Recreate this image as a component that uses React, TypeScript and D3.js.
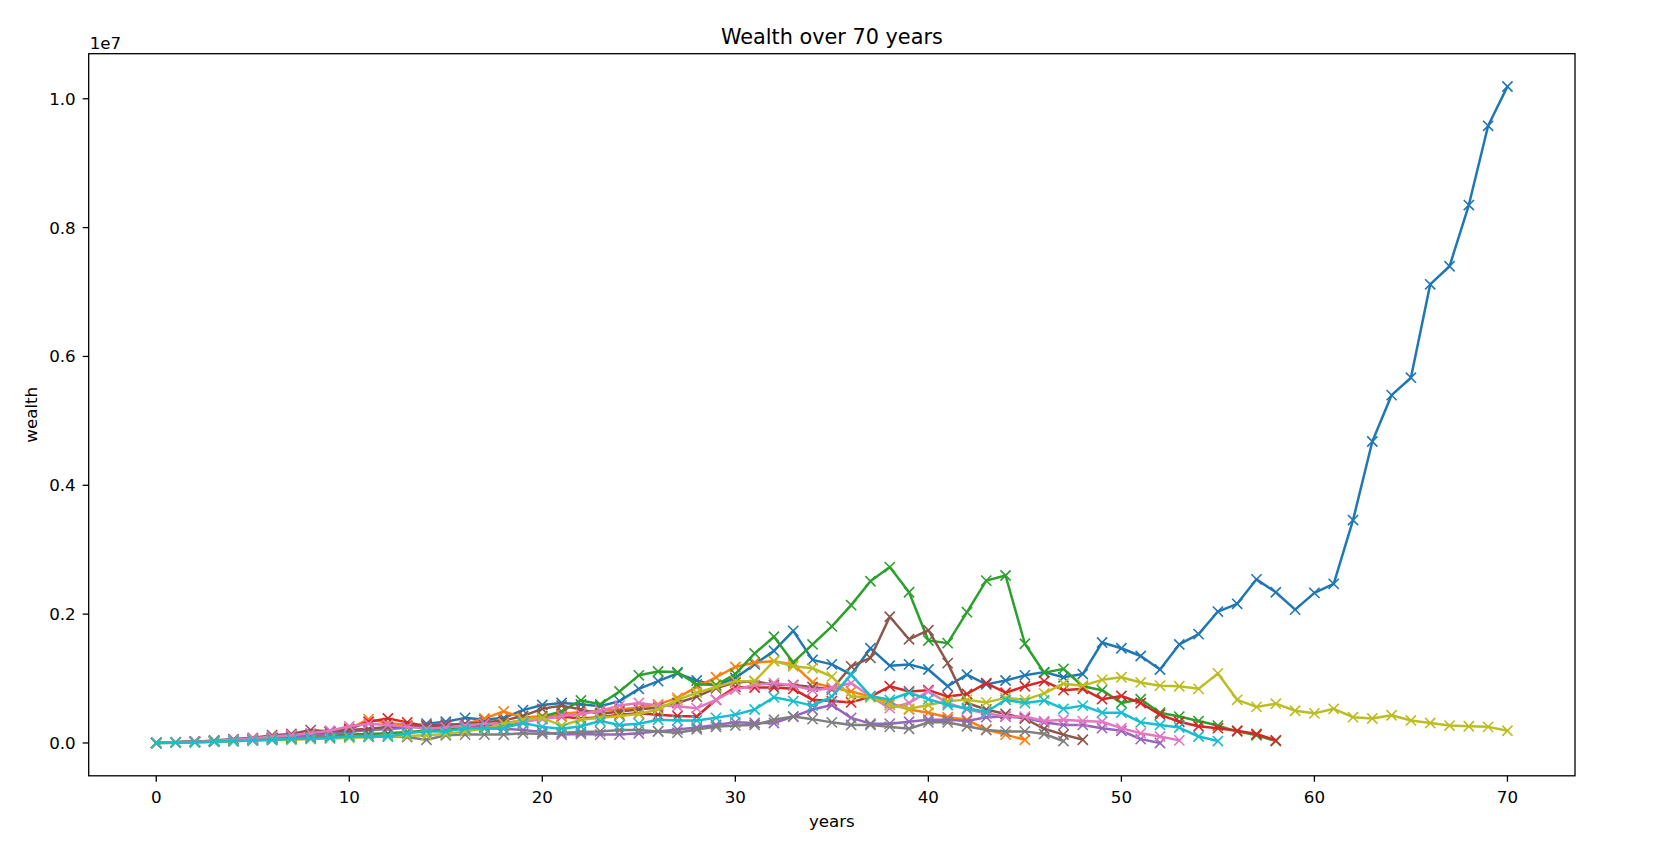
import React from 'react';
import * as d3 from 'd3';

// wealth values in millions, index = year
const blueVals = [0, 0.01, 0.02, 0.03, 0.05, 0.06, 0.09, 0.11, 0.14, 0.17, 0.19, 0.21, 0.22, 0.24, 0.30, 0.33, 0.39, 0.36, 0.39, 0.51, 0.59, 0.62, 0.60, 0.57, 0.65, 0.84, 0.96, 1.08, 0.97, 0.89, 1.01, 1.22, 1.43, 1.74, 1.29, 1.22, 1.06, 1.47, 1.20, 1.22, 1.14, 0.88, 1.06, 0.91, 0.97, 1.05, 1.10, 1.02, 1.07, 1.56, 1.47, 1.35, 1.14, 1.53, 1.69, 2.04, 2.16, 2.54, 2.34, 2.07, 2.33, 2.47, 3.46, 4.68, 5.40, 5.67, 7.12, 7.40, 8.35, 9.58, 10.19];
const orangeVals = [0, 0.01, 0.02, 0.03, 0.04, 0.06, 0.08, 0.10, 0.13, 0.17, 0.22, 0.37, 0.31, 0.28, 0.27, 0.25, 0.29, 0.38, 0.49, 0.39, 0.42, 0.45, 0.48, 0.50, 0.52, 0.55, 0.60, 0.70, 0.87, 1.02, 1.18, 1.25, 1.27, 1.22, 0.94, 0.86, 0.80, 0.72, 0.62, 0.52, 0.47, 0.40, 0.36, 0.21, 0.13, 0.05];
const greenVals = [0, 0.01, 0.02, 0.02, 0.03, 0.04, 0.06, 0.07, 0.09, 0.11, 0.13, 0.14, 0.15, 0.17, 0.19, 0.21, 0.22, 0.25, 0.28, 0.32, 0.41, 0.49, 0.66, 0.60, 0.80, 1.05, 1.11, 1.10, 0.91, 0.90, 1.07, 1.39, 1.65, 1.25, 1.53, 1.81, 2.14, 2.51, 2.73, 2.34, 1.59, 1.55, 2.03, 2.52, 2.60, 1.54, 1.09, 1.15, 0.88, 0.82, 0.62, 0.68, 0.47, 0.41, 0.34, 0.27, 0.18, 0.12, 0.03];
const redVals = [0, 0.01, 0.02, 0.03, 0.04, 0.06, 0.08, 0.10, 0.13, 0.17, 0.22, 0.33, 0.38, 0.32, 0.26, 0.25, 0.26, 0.28, 0.31, 0.34, 0.38, 0.41, 0.38, 0.40, 0.44, 0.46, 0.44, 0.42, 0.41, 0.67, 0.87, 0.86, 0.86, 0.84, 0.67, 0.65, 0.63, 0.72, 0.88, 0.80, 0.82, 0.72, 0.76, 0.93, 0.78, 0.88, 0.96, 0.82, 0.84, 0.68, 0.73, 0.62, 0.44, 0.33, 0.26, 0.23, 0.19, 0.14, 0.04];
const purpleVals = [0, 0.01, 0.02, 0.03, 0.04, 0.05, 0.07, 0.09, 0.11, 0.14, 0.17, 0.20, 0.22, 0.24, 0.27, 0.30, 0.26, 0.23, 0.22, 0.20, 0.17, 0.13, 0.14, 0.13, 0.13, 0.15, 0.18, 0.21, 0.24, 0.28, 0.32, 0.31, 0.31, 0.41, 0.52, 0.59, 0.39, 0.30, 0.30, 0.33, 0.36, 0.36, 0.34, 0.40, 0.41, 0.39, 0.32, 0.28, 0.28, 0.23, 0.19, 0.06, 0.0];
const brownVals = [0, 0.01, 0.02, 0.04, 0.06, 0.08, 0.12, 0.14, 0.20, 0.18, 0.20, 0.22, 0.25, 0.26, 0.27, 0.28, 0.30, 0.32, 0.35, 0.42, 0.53, 0.58, 0.52, 0.45, 0.49, 0.52, 0.55, 0.62, 0.72, 0.85, 0.94, 0.96, 0.90, 0.90, 0.87, 0.83, 1.19, 1.32, 1.96, 1.61, 1.75, 1.24, 0.62, 0.52, 0.45, 0.38, 0.22, 0.13, 0.05];
const pinkVals = [0, 0.01, 0.02, 0.03, 0.05, 0.07, 0.10, 0.12, 0.15, 0.19, 0.26, 0.30, 0.28, 0.25, 0.22, 0.24, 0.27, 0.30, 0.30, 0.33, 0.37, 0.42, 0.45, 0.50, 0.58, 0.62, 0.58, 0.57, 0.54, 0.67, 0.83, 0.90, 0.93, 0.89, 0.82, 0.85, 0.93, 0.72, 0.54, 0.62, 0.80, 0.62, 0.52, 0.46, 0.41, 0.41, 0.34, 0.36, 0.34, 0.33, 0.23, 0.15, 0.10, 0.04];
const grayVals = [0, 0.005, 0.01, 0.02, 0.03, 0.04, 0.05, 0.06, 0.08, 0.09, 0.10, 0.10, 0.11, 0.09, 0.05, 0.12, 0.13, 0.13, 0.13, 0.15, 0.14, 0.16, 0.17, 0.18, 0.20, 0.20, 0.18, 0.16, 0.21, 0.25, 0.27, 0.28, 0.36, 0.41, 0.37, 0.32, 0.28, 0.28, 0.25, 0.22, 0.32, 0.32, 0.26, 0.20, 0.18, 0.18, 0.14, 0.03];
const oliveVals = [0, 0.005, 0.01, 0.02, 0.03, 0.04, 0.05, 0.05, 0.06, 0.07, 0.08, 0.09, 0.10, 0.11, 0.12, 0.14, 0.18, 0.22, 0.30, 0.36, 0.39, 0.27, 0.36, 0.39, 0.42, 0.45, 0.52, 0.67, 0.78, 0.87, 0.96, 0.96, 1.27, 1.19, 1.16, 1.03, 0.72, 0.71, 0.59, 0.53, 0.59, 0.65, 0.67, 0.63, 0.70, 0.67, 0.77, 0.92, 0.89, 0.98, 1.02, 0.94, 0.89, 0.88, 0.84, 1.08, 0.67, 0.56, 0.61, 0.50, 0.46, 0.53, 0.40, 0.38, 0.43, 0.35, 0.31, 0.27, 0.26, 0.25, 0.19];
const cyanVals = [0, 0.005, 0.01, 0.02, 0.03, 0.04, 0.05, 0.06, 0.07, 0.08, 0.10, 0.10, 0.10, 0.15, 0.18, 0.18, 0.23, 0.23, 0.23, 0.31, 0.25, 0.22, 0.26, 0.34, 0.28, 0.30, 0.36, 0.35, 0.35, 0.39, 0.44, 0.52, 0.71, 0.65, 0.58, 0.72, 1.06, 0.73, 0.67, 0.78, 0.68, 0.59, 0.54, 0.48, 0.67, 0.62, 0.66, 0.53, 0.58, 0.47, 0.47, 0.32, 0.28, 0.24, 0.10, 0.03];

const seriesValues = [blueVals, orangeVals, greenVals, redVals, purpleVals, brownVals, pinkVals, grayVals, oliveVals, cyanVals];
const seriesColors = ['#1f77b4', '#ff7f0e', '#2ca02c', '#d62728', '#9467bd', '#8c564b', '#e377c2', '#7f7f7f', '#bcbd22', '#17becf'];

const xTicks = [0, 10, 20, 30, 40, 50, 60, 70];
const yTicks = [0, 0.2, 0.4, 0.6, 0.8, 1.0];
const yTickLabels = ['0.0', '0.2', '0.4', '0.6', '0.8', '1.0'];
const titleText = 'Wealth over 70 years';
const xLabelText = 'years';
const yLabelText = 'wealth';
const offsetText = '1e7';

const W = 1662;
const H = 857;
const L = 88.7, R = 1575, T = 53.7, B = 775.8;
const FONT = 'DejaVu Sans, sans-serif';

export default function App() {
  const allPts = seriesValues.flatMap((s) => s.map((v, i) => ({ x: i, y: v * 1e6 })));
  const xMin = d3.min(allPts, (d) => d.x)!, xMax = d3.max(allPts, (d) => d.x)!;
  const yMin = d3.min(allPts, (d) => d.y)!, yMax = d3.max(allPts, (d) => d.y)!;
  const xm = (xMax - xMin) * 0.05, ym = (yMax - yMin) * 0.05;
  const x = d3.scaleLinear().domain([xMin - xm, xMax + xm]).range([L, R]);
  const y = d3.scaleLinear().domain([yMin - ym, yMax + ym]).range([B, T]);
  const line = d3.line<number>().x((_, i) => x(i)).y((v) => y(v * 1e6));
  const ms = 5.1;
  const markerPath = `M${-ms},${-ms}L${ms},${ms}M${-ms},${ms}L${ms},${-ms}`;

  return (
    <svg width={W} height={H} style={{ position: 'absolute', left: 0, top: 0, background: '#fff' }} fontFamily={FONT}>
      <rect x={0} y={0} width={W} height={H} fill="#fff" />
      <defs>
        <clipPath id="plotclip">
          <rect x={L} y={T} width={R - L} height={B - T} />
        </clipPath>
      </defs>
      <g clipPath="url(#plotclip)">
        {seriesValues.map((s, si) => (
          <g key={si}>
            <path d={line(s) || ''} fill="none" stroke={seriesColors[si]} strokeWidth={2.5} strokeLinejoin="round" strokeLinecap="square" />
            {s.map((v, i) => (
              <path key={i} d={markerPath} transform={`translate(${x(i)},${y(v * 1e6)})`} stroke={seriesColors[si]} strokeWidth={1.6} fill="none" />
            ))}
          </g>
        ))}
      </g>
      <rect x={L} y={T} width={R - L} height={B - T} fill="none" stroke="#000" strokeWidth={1.3} />
      {xTicks.map((t) => (
        <g key={t} transform={`translate(${x(t)},${B})`}>
          <line y1={0} y2={6} stroke="#000" strokeWidth={1.3} />
          <text y={27.5} textAnchor="middle" fontSize={16.7} fill="#000">{t}</text>
        </g>
      ))}
      {yTicks.map((t, i) => (
        <g key={t} transform={`translate(${L},${y(t * 1e7)})`}>
          <line x1={0} x2={-6} stroke="#000" strokeWidth={1.3} />
          <text x={-13} dy="0.36em" textAnchor="end" fontSize={16.7} fill="#000">{yTickLabels[i]}</text>
        </g>
      ))}
      <text x={L + 1} y={T - 5} fontSize={16.7} fill="#000">{offsetText}</text>
      <text x={(L + R) / 2} y={T - 10} textAnchor="middle" fontSize={20.8} fill="#000">{titleText}</text>
      <text x={(L + R) / 2} y={827} textAnchor="middle" fontSize={16.7} fill="#000">{xLabelText}</text>
      <text transform={`translate(37,${(T + B) / 2}) rotate(-90)`} textAnchor="middle" fontSize={16.7} fill="#000">{yLabelText}</text>
    </svg>
  );
}
